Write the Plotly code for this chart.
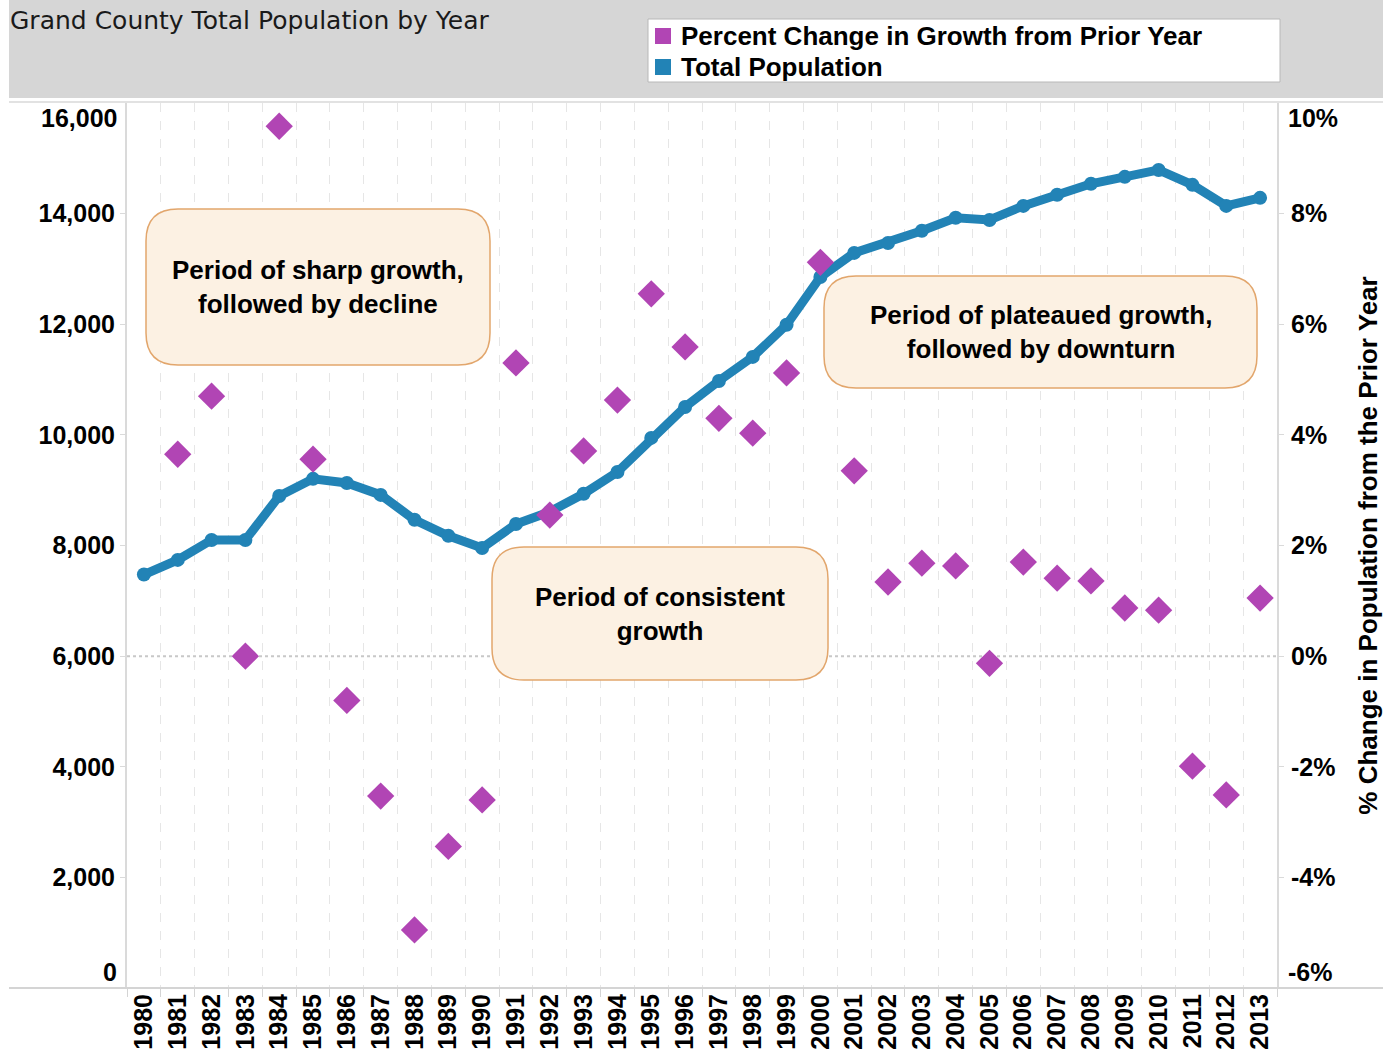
import plotly.graph_objects as go

years = [str(y) for y in range(1980, 2014)]
population = [7475, 7740, 8100, 8100, 8895, 9205, 9130, 8915, 8465, 8175,
              7955, 8390, 8610, 8935, 9330, 9945, 10505, 10975, 11410, 11990,
              12855, 13290, 13470, 13690, 13925, 13885, 14140, 14340, 14540, 14665,
              14790, 14520, 14140, 14285]
pct_change = [None, 3.65, 4.70, 0.0, 9.58, 3.56, -0.80, -2.53, -4.95, -3.44,
              -2.60, 5.30, 2.55, 3.71, 4.63, 6.55, 5.59, 4.30, 4.03, 5.12,
              7.12, 3.35, 1.34, 1.68, 1.63, -0.13, 1.70, 1.41, 1.36, 0.87,
              0.83, -1.99, -2.51, 1.05]
left_ticks = [2000, 4000, 6000, 8000, 10000, 12000, 14000]
right_ticks = [-4, -2, 0, 2, 4, 6, 8]
right_labels = ["-4%", "-2%", "0%", "2%", "4%", "6%", "8%"]

BLUE = "#2283B6"
MAGENTA = "#B145B4"
FONT = "Liberation Sans, Arial, sans-serif"

W, H = 1383, 1055
L, R, T, B = 127, 1277, 103, 988


def fx(px):
    return (px - L) / (R - L)


def fy(py):
    return (B - py) / (B - T)


def rounded_rect(x0, y0, x1, y1, r):
    X = fx
    Y = fy
    return (f"M {X(x0 + r)},{Y(y0)} L {X(x1 - r)},{Y(y0)} "
            f"Q {X(x1)},{Y(y0)} {X(x1)},{Y(y0 + r)} "
            f"L {X(x1)},{Y(y1 - r)} Q {X(x1)},{Y(y1)} {X(x1 - r)},{Y(y1)} "
            f"L {X(x0 + r)},{Y(y1)} Q {X(x0)},{Y(y1)} {X(x0)},{Y(y1 - r)} "
            f"L {X(x0)},{Y(y0 + r)} Q {X(x0)},{Y(y0)} {X(x0 + r)},{Y(y0)} Z")


fig = go.Figure()
fig.add_trace(go.Scatter(
    x=years, y=population, mode="lines+markers", name="Total Population",
    line=dict(color=BLUE, width=9), marker=dict(color=BLUE, size=14),
    yaxis="y", showlegend=False))
fig.add_trace(go.Scatter(
    x=years, y=pct_change, mode="markers", name="Percent Change in Growth from Prior Year",
    marker=dict(color=MAGENTA, size=21, symbol="diamond"),
    yaxis="y2", showlegend=False))

shapes = []
shapes.append(dict(type="rect", xref="paper", yref="paper", x0=fx(9), x1=fx(1383),
                   y0=fy(0), y1=fy(98), fillcolor="#D6D6D6", line=dict(width=0), layer="below"))
shapes.append(dict(type="line", xref="paper", yref="paper", x0=fx(9), x1=fx(1383),
                   y0=fy(102), y1=fy(102), line=dict(color="#E2E2E2", width=2)))
shapes.append(dict(type="line", xref="paper", yref="paper", x0=fx(9), x1=fx(1383),
                   y0=fy(988), y1=fy(988), line=dict(color="#D4D4D4", width=2)))
shapes.append(dict(type="line", xref="paper", yref="y2", x0=0, x1=1, y0=0, y1=0,
                   line=dict(color="#C8C8C8", width=2, dash="dot"), layer="below"))
shapes.append(dict(type="rect", xref="paper", yref="paper", x0=fx(648), x1=fx(1280),
                   y0=fy(19), y1=fy(82), fillcolor="white", line=dict(color="#B8B8B8", width=1)))
shapes.append(dict(type="rect", xref="paper", yref="paper", x0=fx(655), x1=fx(671),
                   y0=fy(28), y1=fy(44), fillcolor=MAGENTA, line=dict(width=0)))
shapes.append(dict(type="rect", xref="paper", yref="paper", x0=fx(655), x1=fx(671),
                   y0=fy(59), y1=fy(75), fillcolor=BLUE, line=dict(width=0)))

boxes = [
    ((146, 209, 490, 365), "Period of sharp growth,<br>followed by decline"),
    ((492, 547, 828, 680), "Period of consistent<br>growth"),
    ((824, 276, 1257, 388), "Period of plateaued growth,<br>followed by downturn"),
]
annotations = []
for (x0, y0, x1, y1), txt in boxes:
    shapes.append(dict(type="path", xref="paper", yref="paper",
                       path=rounded_rect(x0, y0, x1, y1, 32),
                       fillcolor="#FCF1E3", line=dict(color="#E2A66C", width=1.5), layer="above"))
    annotations.append(dict(xref="paper", yref="paper", x=fx((x0 + x1) / 2), y=fy((y0 + y1) / 2),
                            xanchor="center", yanchor="middle",
                            text=txt, showarrow=False,
                            font=dict(family=FONT, size=26, color="black", weight="bold")))

annotations.append(dict(xref="paper", yref="paper", x=fx(8), y=fy(20), xanchor="left", yanchor="middle",
                        text="Grand County Total Population by Year", showarrow=False,
                        font=dict(family="DejaVu Sans, sans-serif", size=25, color="#1a1a1a")))
annotations.append(dict(xref="paper", yref="paper", x=fx(679), y=fy(36), xanchor="left", yanchor="middle",
                        text="Percent Change in Growth from Prior Year", showarrow=False,
                        font=dict(family=FONT, size=26, color="black", weight="bold")))
annotations.append(dict(xref="paper", yref="paper", x=fx(679), y=fy(67), xanchor="left", yanchor="middle",
                        text="Total Population", showarrow=False,
                        font=dict(family=FONT, size=26, color="black", weight="bold")))
labfont = dict(family=FONT, size=23, color="black", weight="bold", style="italic")
annotations.append(dict(x=years[0], y=population[0], yref="y", xshift=24, yshift=-29,
                        xanchor="center", yanchor="middle",
                        text=f"{population[0]:,}", showarrow=False, font=labfont))
imax = population.index(max(population))
annotations.append(dict(x=years[imax], y=population[imax], yref="y", xshift=0, yshift=28,
                        xanchor="center", yanchor="middle",
                        text=f"{population[imax]:,}", showarrow=False, font=labfont))
tickfont = dict(family=FONT, size=25, color="black", weight="bold")
annotations.append(dict(xref="paper", yref="paper", x=fx(119), y=fy(118), xanchor="right", yanchor="middle",
                        text="16,000", showarrow=False, font=tickfont))
annotations.append(dict(xref="paper", yref="paper", x=fx(119), y=fy(972), xanchor="right", yanchor="middle",
                        text="0", showarrow=False, font=tickfont))
annotations.append(dict(xref="paper", yref="paper", x=fx(1286), y=fy(118), xanchor="left", yanchor="middle",
                        text="10%", showarrow=False, font=tickfont))
annotations.append(dict(xref="paper", yref="paper", x=fx(1286), y=fy(972), xanchor="left", yanchor="middle",
                        text="-6%", showarrow=False, font=tickfont))

fig.update_layout(
    width=W, height=H, autosize=False,
    margin=dict(l=L, r=W - R, t=T, b=H - B, pad=0, autoexpand=False),
    paper_bgcolor="white", plot_bgcolor="white",
    shapes=shapes, annotations=annotations,
    xaxis=dict(type="category", categoryorder="array", categoryarray=years,
               range=[-0.5, len(years) - 0.5], tickson="boundaries", automargin=False,
               showgrid=True, gridcolor="#E6E6E6", griddash="dash", gridwidth=1,
               ticks="outside", ticklen=8, tickcolor="#D4D4D4", tickangle=-90,
               tickfont=tickfont, showline=False, zeroline=False, fixedrange=True),
    yaxis=dict(range=[0, 16000], tickvals=left_ticks, tickformat=",", showgrid=False,
               automargin=False,
               zeroline=False, showline=True, linecolor="#DADADA", linewidth=2,
               ticks="outside", ticklen=5, tickcolor="#DADADA", tickfont=tickfont,
               ticklabelstandoff=0),
    yaxis2=dict(range=[-6, 10], tickvals=right_ticks, ticktext=right_labels,
                overlaying="y", side="right", automargin=False,
                showgrid=False, zeroline=False, showline=True, linecolor="#DADADA", linewidth=2,
                ticks="outside", ticklen=5, tickcolor="#DADADA", tickfont=tickfont,
                ticklabelstandoff=2,
                title=dict(text="% Change in Population from the Prior Year", standoff=44,
                           font=dict(family=FONT, size=26, color="black", weight="bold"))),
)

fig.write_html("out.html", config={"displayModeBar": False},
               post_script="document.body.style.margin='0';")
